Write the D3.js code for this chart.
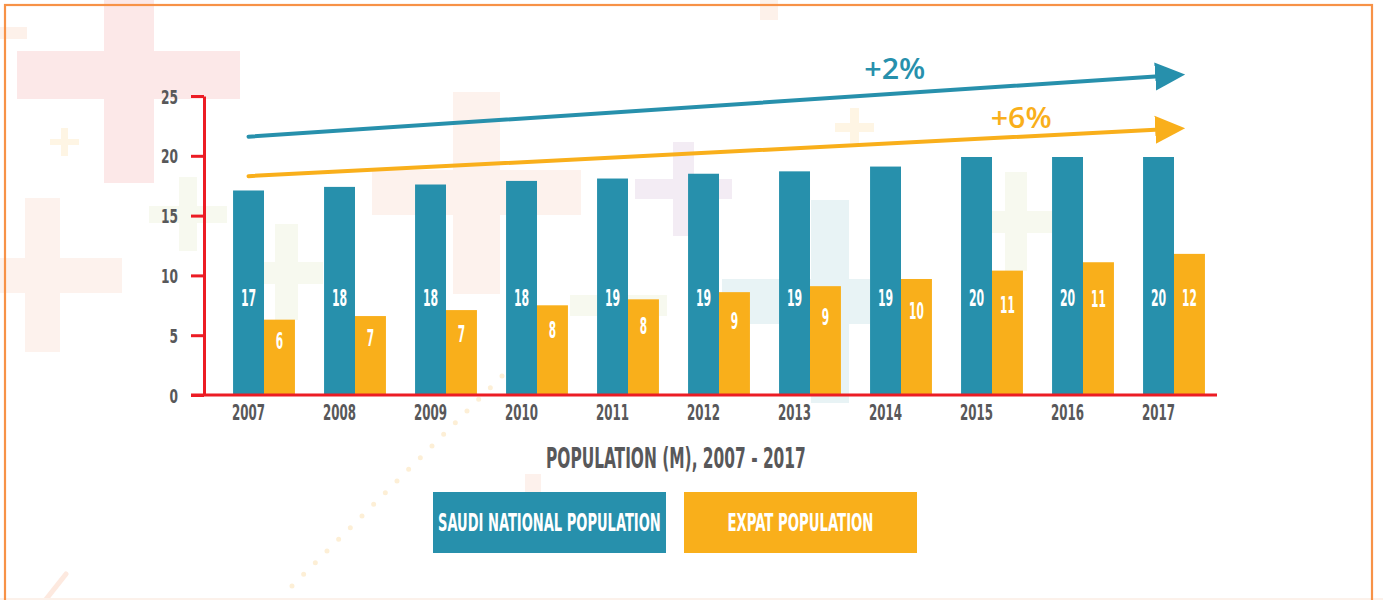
<!DOCTYPE html>
<html>

<head>
    <meta charset="utf-8" />
    <title>Population (M), 2007 - 2017</title>
    <script src="https://d3js.org/d3.v7.min.js"></script>
    <style>
        body { margin: 0; background: #fff; }
        svg { display: block; }
        .narrow { font-family: "Liberation Sans Narrow", "DejaVu Sans Condensed", "Roboto", sans-serif; font-weight: bold; }
        .pct { font-family: "Open Sans", "Noto Sans", sans-serif; font-weight: 600; }
    </style>
</head>

<body>
    <div id="chart"></div>

    <script>
        // data
        const years = ["2007", "2008", "2009", "2010", "2011", "2012", "2013", "2014", "2015", "2016", "2017"];
        const saudiPop = [17.1, 17.4, 17.6, 17.9, 18.1, 18.5, 18.7, 19.1, 19.9, 19.9, 19.9];
        const expatPop = [6.3, 6.6, 7.1, 7.5, 8.0, 8.6, 9.1, 9.7, 10.4, 11.1, 11.8];
        const saudiLabels = [17, 18, 18, 18, 19, 19, 19, 19, 20, 20, 20];
        const expatLabels = [6, 7, 7, 8, 8, 9, 9, 10, 11, 11, 12];
        const yTicks = [0, 5, 10, 15, 20, 25];
        const seriesNames = ["SAUDI NATIONAL POPULATION", "EXPAT POPULATION"];
        const trendLabels = ["+2%", "+6%"];
        const trendFrom = [21.6, 18.3];
        const trendTo = [26.8, 22.3];
        const chartTitle = "POPULATION (M), 2007 - 2017";

        const teal = "#2790ac";
        const orange = "#f9af1b";
        const red = "#ec1c24";
        const grey = "#58585a";

        const svgWidth = 1383;
        const svgHeight = 600;

        const svg = d3.select("#chart")
            .append("svg")
            .attr("width", svgWidth)
            .attr("height", svgHeight);

        // squeeze a text horizontally so it is w pixels wide, centred or right aligned at x
        function squeeze(text, x, y, w, anchor) {
            text.attr("x", 0).attr("y", 0).attr("dy", null).attr("text-anchor", "start");
            const n = text.node().getComputedTextLength();
            const s = w / n;
            const left = anchor === "end" ? x - w : x - w / 2;
            text.attr("transform", `translate(${left}, ${y}) scale(${s}, 1)`);
        }

        // background decoration (faint crosses)
        const decor = [
            [104, 0, 50, 183, "#fce8e8"], [17, 51, 223, 48, "#fce8e8"],
            [0, 27, 27, 12, "#fdf1ea"], [760, 0, 18, 20, "#fdf1ea"],
            [61, 128, 7, 28, "#fef5e4"], [50, 139, 29, 6, "#fef5e4"],
            [25, 198, 35, 154, "#fdf2ed"], [0, 258, 122, 35, "#fdf2ed"],
            [179, 177, 18, 74, "#f7f9ef"], [149, 206, 78, 17, "#f7f9ef"],
            [275, 224, 23, 96, "#f7f9ef"], [264, 262, 59, 22, "#f7f9ef"],
            [453, 92, 47, 202, "#fdf2ed"], [372, 170, 209, 45, "#fdf2ed"],
            [673, 142, 21, 94, "#f3ecf4"], [635, 179, 97, 20, "#f3ecf4"],
            [570, 295, 97, 21, "#f7f9ef"],
            [811, 200, 38, 203, "#e8f3f5"], [722, 279, 148, 45, "#e8f3f5"],
            [850, 108, 9, 35, "#fef5e4"], [835, 123, 39, 9, "#fef5e4"],
            [1005, 172, 22, 99, "#f7f9ef"], [992, 211, 61, 22, "#f7f9ef"],
            [525, 474, 16, 18, "#fdf1ec"]
        ];
        svg.append("g").selectAll("rect")
            .data(decor)
            .enter().append("rect")
            .attr("x", d => d[0]).attr("y", d => d[1])
            .attr("width", d => d[2]).attr("height", d => d[3])
            .attr("fill", d => d[4]);

        svg.append("line")
            .attr("x1", 502).attr("y1", 376).attr("x2", 282).attr("y2", 596)
            .attr("stroke", "#fdefd6").attr("stroke-width", 5)
            .attr("stroke-linecap", "round").attr("stroke-dasharray", "0 16.5");
        svg.append("line")
            .attr("x1", 66).attr("y1", 574).attr("x2", 36).attr("y2", 612)
            .attr("stroke", "#fde9df").attr("stroke-width", 5).attr("stroke-linecap", "round");
        svg.append("line")
            .attr("x1", 0).attr("y1", 599).attr("x2", svgWidth).attr("y2", 599)
            .attr("stroke", "#fcf1ea").attr("stroke-width", 2);

        // frame
        svg.append("rect")
            .attr("x", 5).attr("y", 5)
            .attr("width", 1367).attr("height", 640)
            .attr("fill", "none").attr("stroke", "#f79247").attr("stroke-width", 2.2);

        // scales
        const xScale = d3.scaleBand()
            .domain(years)
            .range([218.5, 1219.5])
            .paddingInner(0.32)
            .paddingOuter(0.16);
        const barW = xScale.bandwidth() / 2;

        const yScale = d3.scaleLinear()
            .domain([0, 25])
            .range([395, 96]);

        const axisX = 204;

        // bars
        const chart = svg.append("g");
        chart.selectAll(".saudi")
            .data(years)
            .enter().append("rect")
            .attr("class", "saudi")
            .attr("x", d => xScale(d))
            .attr("y", (d, i) => yScale(saudiPop[i]))
            .attr("width", barW)
            .attr("height", (d, i) => yScale(0) - yScale(saudiPop[i]))
            .attr("fill", teal);

        chart.selectAll(".expat")
            .data(years)
            .enter().append("rect")
            .attr("class", "expat")
            .attr("x", d => xScale(d) + barW)
            .attr("y", (d, i) => yScale(expatPop[i]))
            .attr("width", barW)
            .attr("height", (d, i) => yScale(0) - yScale(expatPop[i]))
            .attr("fill", orange);

        // value labels
        const labelY = yScale(8.1);
        years.forEach((yr, i) => {
            const t1 = chart.append("text")
                .attr("class", "narrow")
                .attr("font-size", 22.5)
                .attr("fill", "#fff")
                .text(saudiLabels[i]);
            squeeze(t1, xScale(yr) + barW / 2, labelY + 8, String(saudiLabels[i]).length * 7.6);

            const t2 = chart.append("text")
                .attr("class", "narrow")
                .attr("font-size", 22.5)
                .attr("fill", "#fff")
                .text(expatLabels[i]);
            squeeze(t2, xScale(yr) + barW * 1.5,
                Math.max(labelY, yScale(expatPop[i] * 0.72)) + 8,
                String(expatLabels[i]).length * 7.4);
        });

        // y axis
        const yAxis = d3.axisLeft(yScale)
            .tickValues(yTicks)
            .tickSizeInner(13)
            .tickSizeOuter(0)
            .tickPadding(13);
        const yG = svg.append("g")
            .attr("transform", `translate(${axisX}, 0)`)
            .call(yAxis);
        yG.select(".domain").attr("stroke", red).attr("stroke-width", 3);
        yG.selectAll(".tick line").attr("stroke", red).attr("stroke-width", 3);
        yG.selectAll(".tick text")
            .attr("class", "narrow")
            .attr("font-size", 19.5)
            .attr("fill", grey)
            .each(function (d) {
                squeeze(d3.select(this), -26, 7, String(d).length * 8.5, "end");
            });

        // x axis
        svg.append("line")
            .attr("x1", axisX - 13).attr("x2", 1217)
            .attr("y1", yScale(0)).attr("y2", yScale(0))
            .attr("stroke", red).attr("stroke-width", 3);

        const xAxis = d3.axisBottom(xScale).tickSize(0).tickPadding(0);
        const xG = svg.append("g")
            .attr("transform", `translate(0, ${yScale(0)})`)
            .call(xAxis);
        xG.select(".domain").remove();
        xG.selectAll(".tick text")
            .attr("class", "narrow")
            .attr("font-size", 21.5)
            .attr("fill", grey)
            .each(function () {
                squeeze(d3.select(this), -barW / 2, 25, 33);
            });

        // trend arrows
        const defs = svg.append("defs");
        [teal, orange].forEach((c, i) => {
            defs.append("marker")
                .attr("id", "head" + i)
                .attr("markerUnits", "userSpaceOnUse")
                .attr("viewBox", "0 -15 30 30")
                .attr("markerWidth", 30)
                .attr("markerHeight", 30)
                .attr("refX", 0)
                .attr("refY", 0)
                .attr("orient", "auto")
                .append("path")
                .attr("d", "M0,-14L30,0L0,14Z")
                .attr("fill", c);
        });

        const labelAt = [0.69, 0.825];
        const labelDy = [-15, -8.5];
        trendLabels.forEach((lab, i) => {
            const c = i === 0 ? teal : orange;
            const x1 = xScale("2007") + barW / 2;
            const y1 = yScale(trendFrom[i]);
            const x2 = xScale("2017") + barW * 1.36;
            const y2 = yScale(trendTo[i]);
            const len = Math.hypot(x2 - x1, y2 - y1);
            const bx = x2 - (x2 - x1) / len * 30;
            const by = y2 - (y2 - y1) / len * 30;
            svg.append("line")
                .attr("x1", x1).attr("y1", y1)
                .attr("x2", bx).attr("y2", by)
                .attr("stroke", c).attr("stroke-width", 4)
                .attr("stroke-linecap", "round")
                .attr("marker-end", `url(#head${i})`);
            const t = svg.append("text")
                .attr("class", "pct")
                .attr("font-size", 28.5)
                .attr("fill", c)
                .text(lab);
            squeeze(t, x1 + (x2 - x1) * labelAt[i], y1 + (y2 - y1) * labelAt[i] + labelDy[i], 61);
        });

        // title
        const title = svg.append("text")
            .attr("class", "narrow")
            .attr("font-size", 28.5)
            .attr("fill", grey)
            .text(chartTitle);
        squeeze(title, 676, 468, 260);

        // legend
        const legendX = [433, 684];
        const legendText = [223, 146];
        seriesNames.forEach((name, i) => {
            const g = svg.append("g").attr("transform", `translate(${legendX[i]}, 492)`);
            g.append("rect")
                .attr("width", 233).attr("height", 61)
                .attr("fill", i === 0 ? teal : orange);
            const t = g.append("text")
                .attr("class", "narrow")
                .attr("font-size", 24.5)
                .attr("fill", "#fff")
                .text(name);
            squeeze(t, 116.5, 39, legendText[i]);
        });
    </script>
</body>

</html>
